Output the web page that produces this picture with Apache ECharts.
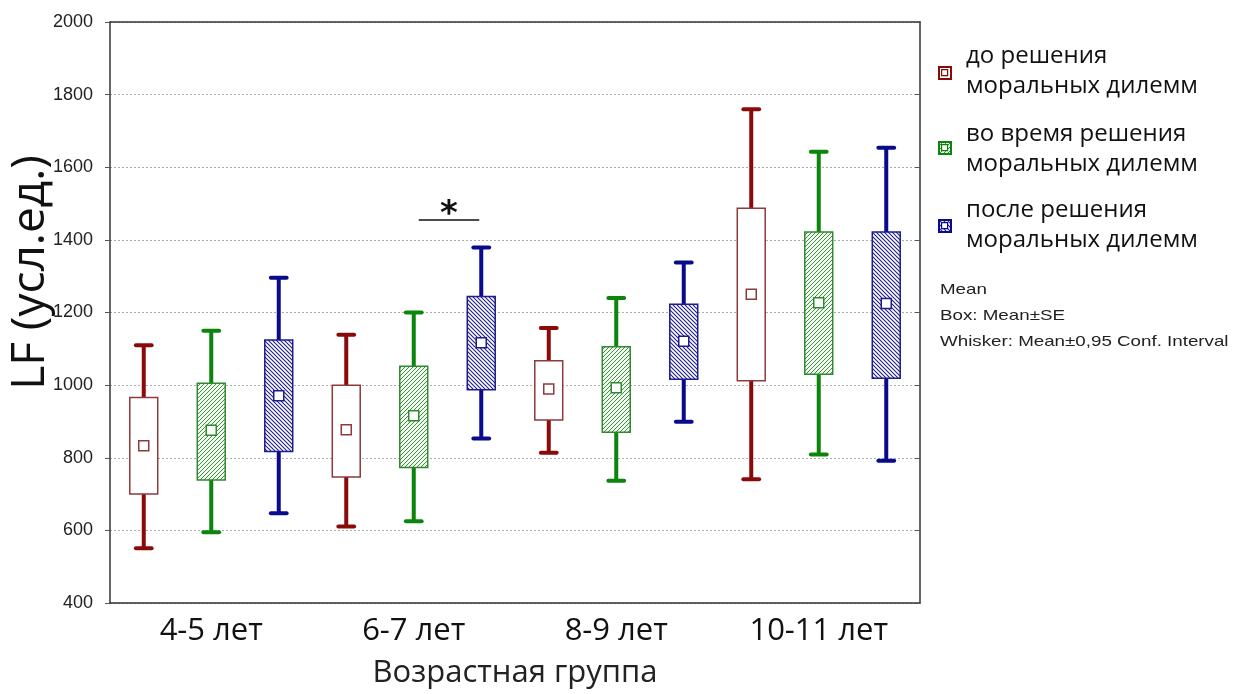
<!DOCTYPE html>
<html>
<head>
<meta charset="utf-8">
<script src="https://cdn.jsdelivr.net/npm/echarts@6/dist/echarts.min.js"></script>
<style>
  html, body { margin: 0; padding: 0; background: #fff; }
  #chart { width: 1233px; height: 694px; }
</style>
</head>
<body>
<div id="chart"></div>
<script>
// Age groups on the x axis
const categories = ['4-5 лет', '6-7 лет', '8-9 лет', '10-11 лет'];

// LF per group: [whisker low, box low (mean-SE), mean, box high (mean+SE), whisker high]
const beforeStats = [
  [551, 700, 833, 966, 1110],
  [611, 747, 877, 1000, 1139],
  [814, 904, 989, 1067, 1157],
  [741, 1012, 1250, 1487, 1760]
];
const duringStats = [
  [595, 739, 876, 1005, 1150],
  [625, 773, 916, 1052, 1200],
  [737, 870, 993, 1106, 1240],
  [809, 1030, 1227, 1422, 1643]
];
const afterStats = [
  [647, 817, 971, 1124, 1296],
  [853, 987, 1117, 1244, 1379],
  [899, 1016, 1121, 1223, 1338],
  [792, 1019, 1225, 1422, 1654]
];

const seriesNames = [
  'до решения\nморальных дилемм',
  'во время решения\nморальных дилемм',
  'после решения\nморальных дилемм'
];

// Significance marker: group index, from slot, to slot, level
const significance = [[1, 1, 2, 1455]];

const yTicks = { min: 400, max: 2000, interval: 200 };

const legendNotes = ['Mean', 'Box: Mean±SE', 'Whisker: Mean±0,95 Conf. Interval'];

// Diagonal hatch pattern drawn onto a small repeating canvas
function hatch(lineColor, bgColor, forward, size, lw) {
  const c = document.createElement('canvas');
  c.width = size; c.height = size;
  const g = c.getContext('2d');
  g.fillStyle = bgColor;
  g.fillRect(0, 0, size, size);
  g.strokeStyle = lineColor;
  g.lineWidth = lw;
  g.beginPath();
  if (forward) {
    for (const o of [-size, 0, size]) {
      g.moveTo(o - 1, size + 1);
      g.lineTo(o + size + 1, -1);
    }
  } else {
    for (const o of [-size, 0, size]) {
      g.moveTo(o - 1, -1);
      g.lineTo(o + size + 1, size + 1);
    }
  }
  g.stroke();
  return { image: c, repeat: 'repeat' };
}

const styles = [
  { line: '#8a0a0a', border: '#8e3a3a', fill: '#ffffff' },
  { line: '#0b850b', border: '#2f8a2f', fill: hatch('#3c933c', '#f4fbf2', true, 4, 1) },
  { line: '#0a0a8c', border: '#1c1c8c', fill: hatch('#1e1e88', '#ffffff', false, 4, 1.1) }
];

function boxRenderer(slot) {
  const st = styles[slot];
  return function (params, api) {
    const ci = api.value(0);
    const band = api.size([1, 0])[0];
    const cx = api.coord([ci, 0])[0] + (slot - 1) * band / 3;
    const y = v => api.coord([ci, v])[1];
    const yLow = y(api.value(1)), yQ1 = y(api.value(2)), yMean = y(api.value(3)),
          yQ3 = y(api.value(4)), yHigh = y(api.value(5));
    const bw = band * 0.138;
    const cap = band * 0.078;
    const m = 5;
    return {
      type: 'group',
      children: [
        { type: 'line', shape: { x1: cx, y1: yLow, x2: cx, y2: yHigh },
          style: { stroke: st.line, lineWidth: 4 } },
        { type: 'line', shape: { x1: cx - cap / 2, y1: yLow, x2: cx + cap / 2, y2: yLow },
          style: { stroke: st.line, lineWidth: 4, lineCap: 'round' } },
        { type: 'line', shape: { x1: cx - cap / 2, y1: yHigh, x2: cx + cap / 2, y2: yHigh },
          style: { stroke: st.line, lineWidth: 4, lineCap: 'round' } },
        { type: 'rect', shape: { x: cx - bw / 2, y: yQ3, width: bw, height: yQ1 - yQ3 },
          style: { fill: st.fill, stroke: st.border, lineWidth: 1.5 } },
        { type: 'rect', shape: { x: cx - m, y: yMean - m, width: 2 * m, height: 2 * m },
          style: { fill: '#ffffff', stroke: st.border, lineWidth: 1.5 } }
      ]
    };
  };
}

function toRows(stats) {
  return stats.map((r, i) => [i].concat(r));
}

const statSets = [beforeStats, duringStats, afterStats];

const series = statSets.map((stats, slot) => ({
  type: 'custom',
  name: seriesNames[slot],
  xAxisIndex: 0,
  yAxisIndex: 0,
  renderItem: boxRenderer(slot),
  data: toRows(stats),
  encode: { x: 0, y: [1, 2, 3, 4, 5] },
  clip: false,
  z: 3
}));

series.push({
  type: 'custom',
  name: 'significance',
  xAxisIndex: 0,
  yAxisIndex: 0,
  data: significance,
  encode: { x: 0, y: 3 },
  clip: false,
  z: 4,
  renderItem: function (params, api) {
    const ci = api.value(0);
    const band = api.size([1, 0])[0];
    const base = api.coord([ci, api.value(3)]);
    const x1 = base[0] + (api.value(1) - 1) * band / 3 + 5;
    const x2 = base[0] + (api.value(2) - 1) * band / 3 - 2;
    const yy = base[1];
    return {
      type: 'group',
      children: [
        { type: 'line', shape: { x1: x1, y1: yy, x2: x2, y2: yy },
          style: { stroke: '#111', lineWidth: 1.5 } },
        { type: 'text', style: { text: '*', x: (x1 + x2) / 2, y: yy + 12,
          align: 'center', verticalAlign: 'bottom', fill: '#111',
          font: 'bold 34px "DejaVu Sans"' } }
      ]
    };
  }
});

// Legend drawn as graphic elements on the right
const legendGraphics = [];
const legendTop = [41, 119, 195];
const iconTop = [66, 141, 219];
legendTop.forEach((top, i) => {
  const st = styles[i];
  legendGraphics.push({
    type: 'rect', left: 938, top: iconTop[i],
    shape: { width: 12, height: 12 },
    style: { fill: st.fill, stroke: st.line, lineWidth: 2 }
  });
  legendGraphics.push({
    type: 'rect', left: 941, top: iconTop[i] + 3,
    shape: { width: 6, height: 6 },
    style: { fill: '#ffffff', stroke: st.line, lineWidth: 1.2 }
  });
  legendGraphics.push({
    type: 'text', left: 966, top: top,
    style: { text: seriesNames[i], fill: '#111', font: '24px "Open Sans"', lineHeight: 30 }
  });
});
legendNotes.forEach((t, i) => {
  legendGraphics.push({
    type: 'text', left: 940, top: 282 + i * 26, scaleX: 1.25,
    style: { text: t, fill: '#222', font: '15px "Liberation Sans"' }
  });
});

const chart = echarts.init(document.getElementById('chart'), null, { renderer: 'canvas' });
chart.setOption({
  animation: false,
  backgroundColor: '#ffffff',
  grid: { left: 110, right: 313, top: 22, bottom: 91, containLabel: false, outerBoundsMode: 'none' },
  xAxis: [
    {
      type: 'category',
      data: categories,
      boundaryGap: true,
      axisLine: { lineStyle: { color: '#333', width: 1.5 } },
      axisTick: { inside: true, alignWithLabel: true, length: 5, lineStyle: { color: '#555' } },
      axisLabel: { fontSize: 31, fontFamily: 'Open Sans', color: '#111', margin: 13 },
      name: 'Возрастная группа',
      nameLocation: 'middle',
      nameGap: 55,
      nameMoveOverlap: false,
      nameTextStyle: { fontSize: 31, fontFamily: 'Open Sans', color: '#222' }
    },
    {
      type: 'category',
      position: 'top',
      data: categories,
      axisLine: { lineStyle: { color: '#333', width: 1.5 } },
      axisTick: { inside: true, alignWithLabel: true, length: 5, lineStyle: { color: '#555' } },
      axisLabel: { show: false }
    }
  ],
  yAxis: [
    {
      type: 'value',
      min: yTicks.min, max: yTicks.max, interval: yTicks.interval,
      axisLine: { show: true, lineStyle: { color: '#333', width: 1.5 } },
      axisTick: { show: true, inside: false, length: 5, lineStyle: { color: '#555' } },
      axisLabel: { fontSize: 18, fontFamily: 'Liberation Sans', color: '#222', margin: 17,
        formatter: v => String(v) },
      splitLine: { show: true, lineStyle: { color: '#aaaaaa', type: [2, 2], width: 1 } },
      name: 'LF (усл.ед.)',
      nameLocation: 'middle',
      nameGap: 56,
      nameMoveOverlap: false,
      nameTextStyle: { fontSize: 46, fontFamily: 'Open Sans', color: '#111', padding: [0, 0, 0, 80] }
    },
    {
      type: 'value',
      position: 'right',
      min: yTicks.min, max: yTicks.max, interval: yTicks.interval,
      axisLine: { show: true, lineStyle: { color: '#333', width: 1.5 } },
      axisTick: { show: true, inside: true, length: 5, lineStyle: { color: '#555' } },
      axisLabel: { show: false },
      splitLine: { show: false }
    }
  ],
  graphic: legendGraphics,
  series: series
});
</script>
</body>
</html>
